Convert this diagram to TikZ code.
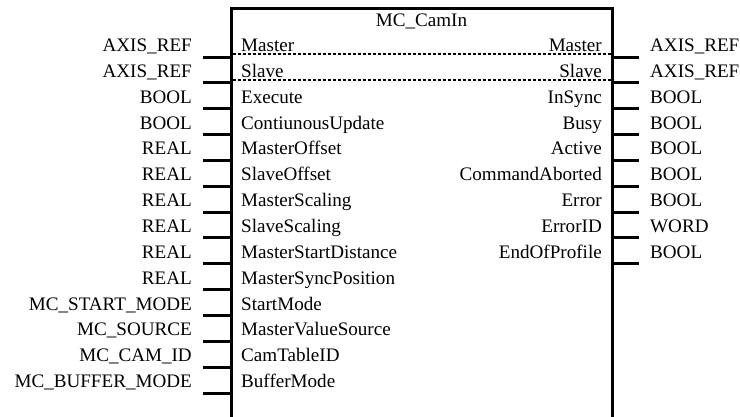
\documentclass[tikz,border=0pt]{standalone}
\usepackage{fontspec}
\setmainfont{Liberation Serif}
\begin{document}
\begin{tikzpicture}[x=1pt,y=-1pt,
  lbl/.style={inner sep=0pt,font=\fontsize{19.1}{21}\selectfont},
  pin/.style={line width=3pt},
  frame/.style={line width=3pt},
  sep/.style={line width=1.2pt,dash pattern=on 3pt off 2pt}]
\useasboundingbox (0,0) rectangle (740,416);
% box frame
\coordinate (tl) at (231,8.5);
\coordinate (tr) at (612,8.5);
\coordinate (bl) at (231,418);
\coordinate (br) at (612,418);
\draw[frame] (bl) -- (tl) -- (tr) -- (br);
\node[lbl,anchor=base] (title) at (421.5,26.5) {MC\_CamIn};
% inputs
\foreach \t/\n [count=\i from 0] in {AXIS\_REF/Master,AXIS\_REF/Slave,BOOL/Execute,BOOL/ContiunousUpdate,REAL/MasterOffset,REAL/SlaveOffset,REAL/MasterScaling,REAL/SlaveScaling,REAL/MasterStartDistance,REAL/MasterSyncPosition,MC\_START\_MODE/StartMode,MC\_SOURCE/MasterValueSource,MC\_CAM\_ID/CamTableID,MC\_BUFFER\_MODE/BufferMode}{
  \pgfmathsetmacro{\py}{57+25.85*\i}
  \coordinate (ia\i) at (203,\py);
  \coordinate (ib\i) at (231,\py);
  \draw[pin] (ia\i) -- (ib\i);
  \node[lbl,anchor=base east] (it\i) at (192,\py-5.5) {\t};
  \node[lbl,anchor=base west] (in\i) at (241,\py-5.5) {\n};
}
% outputs
\foreach \n/\t [count=\i from 0] in {Master/AXIS\_REF,Slave/AXIS\_REF,InSync/BOOL,Busy/BOOL,Active/BOOL,CommandAborted/BOOL,Error/BOOL,ErrorID/WORD,EndOfProfile/BOOL}{
  \pgfmathsetmacro{\py}{57+25.85*\i}
  \coordinate (oa\i) at (612,\py);
  \coordinate (ob\i) at (639,\py);
  \draw[pin] (oa\i) -- (ob\i);
  \node[lbl,anchor=base east] (on\i) at (602,\py-5.5) {\n};
  \node[lbl,anchor=base west] (ot\i) at (650,\py-5.5) {\t};
}
% dashed separators
\coordinate (d0l) at (232.5,54);
\coordinate (d0r) at (610.5,54);
\coordinate (d1l) at (232.5,80);
\coordinate (d1r) at (610.5,80);
\draw[sep] (d0l) -- (d0r);
\draw[sep] (d1l) -- (d1r);
\end{tikzpicture}
\end{document}
